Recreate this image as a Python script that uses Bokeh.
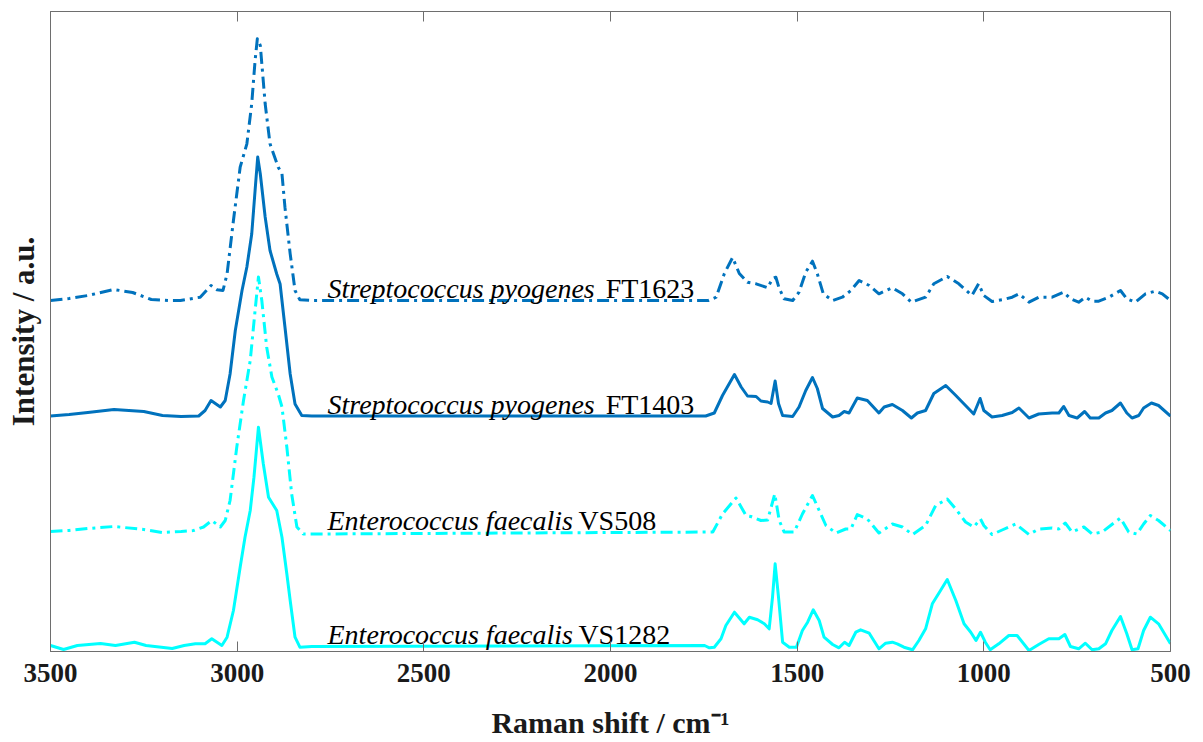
from bokeh.plotting import figure
from bokeh.models import Range1d, LinearAxis, FixedTicker
from bokeh.core.properties import value
from bokeh.embed import file_html
from bokeh.resources import INLINE

# ---------------- data (relative intensity above each trace's own baseline, a.u.) ----------------
ft1623_x = [3500, 3450, 3400, 3330, 3280, 3230, 3180, 3152, 3099, 3070, 3054, 3038, 3027, 3010, 2992, 2974,
            2961, 2952, 2946, 2938, 2925, 2912, 2890, 2880, 2872, 2858, 2845, 2832, 2796, 1738, 1717, 1695,
            1673, 1655, 1633, 1610, 1579, 1566, 1557, 1548, 1535, 1512, 1495, 1477, 1459, 1446, 1430, 1405,
            1379, 1356, 1334, 1307, 1281, 1245, 1218, 1194, 1156, 1134, 1098, 1067, 1032, 1014, 1000, 978,
            951, 924, 906, 879, 853, 817, 786, 768, 746, 728, 710, 692, 665, 634, 617, 594, 567, 541, 522, 500]
ft1623_y = [0, 2, 5, 11, 8, 1, 0, 0, 3.3, 15, 10.7, 10, 26.7, 80, 133.3, 156.7,
            196.7, 240, 261.7, 255, 196.7, 156.7, 133.3, 126.7, 93.3, 46.7, 10, 0.7, 0, 0, 3.3, 27,
            43, 27, 18.3, 16.7, 12.7, 22, 23.3, 12, 1.7, 0, 8.3, 28.3, 39.3, 26.7, 6.7, 0,
            3.3, 10, 20, 15, 6.7, 12.7, 6.7, -1.7, 3.3, 16.7, 24, 16.7, 5, 16.7, 5, -1,
            0.7, 3.3, 6.7, -1.7, 3.3, 3.3, 8.3, 1.7, -1.7, 3.3, -0.7, -0.7, 3.3, 10, 1.7, -1.7, 6.7, 9.3, 6.7, 0]

ft1403_x = [3500, 3450, 3400, 3330, 3250, 3200, 3150, 3103, 3086, 3070, 3045, 3032, 3019, 3005, 2987, 2974,
            2961, 2952, 2945, 2938, 2925, 2912, 2894, 2885, 2872, 2858, 2845, 2827, 2800, 1745, 1722, 1700,
            1668, 1650, 1633, 1610, 1597, 1579, 1570, 1559, 1550, 1539, 1512, 1495, 1477, 1459, 1446, 1432,
            1405, 1388, 1374, 1361, 1339, 1312, 1281, 1267, 1245, 1218, 1194, 1178, 1156, 1134, 1102, 1075,
            1049, 1027, 1010, 1000, 978, 951, 924, 906, 879, 853, 817, 799, 786, 772, 750, 730, 715, 692,
            674, 657, 634, 617, 603, 585, 572, 551, 532, 500]
ft1403_y = [0, 1.5, 3.5, 6.5, 4.5, 0.5, -0.5, 0, 5.5, 15.5, 9, 15.5, 42, 85.5, 125.5, 149,
            182, 225.5, 259, 242, 199, 165.5, 142, 132, 89, 42, 12, 0.5, 0, 0, 3, 20.5,
            41.5, 29, 20, 19.5, 15, 14, 12.5, 35, 12.5, 0.5, -0.5, 9, 25.5, 38.5, 27.5, 7.5,
            -1, 0.5, 4.5, 3, 18, 15.5, 3, 9, 11.5, 5.5, -2, 3, 5.5, 22.5, 30.5, 20.5,
            10.5, 2, 17.5, 5.5, -1, 0.5, 3.5, 8, -2, 2, 3, 3, 9.5, 0.5, -2, 4.5, -2, -2,
            3, 5.5, 13, 3, -2, 0.5, 8, 13, 10.5, 0]

vs508_x = [3500, 3450, 3400, 3330, 3250, 3200, 3150, 3117, 3090, 3068, 3045, 3032, 3019, 3001, 2983, 2965,
           2952, 2943, 2934, 2921, 2907, 2890, 2880, 2867, 2854, 2840, 2823, 2800, 1726, 1700, 1664, 1637,
           1624, 1597, 1579, 1560, 1548, 1535, 1508, 1486, 1459, 1441, 1423, 1396, 1370, 1356, 1339, 1312,
           1281, 1245, 1218, 1191, 1156, 1129, 1098, 1075, 1049, 1027, 1009, 1000, 978, 951, 915, 879,
           853, 817, 799, 782, 764, 732, 710, 683, 657, 634, 612, 590, 572, 554, 532, 500]
vs508_y = [0.5, 1.5, 3.5, 5.5, 2.5, -0.5, 0.5, 1.5, 5, 11.5, 5, 11.5, 31.5, 85, 131.5, 171.5,
           221.5, 255, 231.5, 185, 155, 138, 125, 85, 38, 5, -2, -2, 0, 18, 34, 16.5,
           15.5, 11.5, 12, 38, 11.5, 0, 0, 18, 36.5, 21.5, 6.5, -1, 3, 3, 17.5, 13,
           -1, 8, 5, -2.5, 6.5, 26.5, 33, 23, 10, 5, 13, 6.5, -2.5, 2, 8, -2.5,
           3, 4, 3, 9, 0, 5, -2, 0, 7.5, 14, 0, -2, 8, 16.5, 11.5, 1.5]

vs1282_x = [3500, 3465, 3428, 3366, 3326, 3275, 3244, 3203, 3174, 3142, 3112, 3086, 3068, 3041, 3027, 3010,
            2992, 2979, 2965, 2955, 2943, 2930, 2916, 2894, 2880, 2867, 2858, 2845, 2832, 2800, 1748, 1735,
            1722, 1704, 1691, 1668, 1642, 1628, 1606, 1588, 1575, 1566, 1559, 1550, 1539, 1521, 1502, 1486,
            1472, 1457, 1441, 1428, 1405, 1388, 1373, 1361, 1343, 1330, 1307, 1281, 1263, 1245, 1232, 1214,
            1191, 1174, 1156, 1138, 1116, 1098, 1075, 1053, 1035, 1021, 1009, 996, 983, 960, 933, 911,
            879, 853, 826, 799, 783, 768, 746, 728, 710, 692, 674, 657, 634, 617, 603, 587, 572, 554, 532, 500]
vs1282_y = [1, -3, 1, 3, 1, 4.3, 1, -0.7, -2, 1, 2.7, 2.7, 7.7, 1, 9.3, 36,
            79.3, 109.3, 136, 169.3, 219.3, 182.7, 149.3, 136, 109.3, 72.7, 46, 9.3, -0.7, 0, 1, -1.3,
            -0.7, 7.7, 21, 34.3, 22.7, 29.3, 26.7, 22.7, 17.7, 49.3, 82.7, 49.3, 4.3, -0.7, -0.7, 16,
            24.3, 36.7, 26, 9.3, 2, -1.3, 4.3, 1, 14.3, 16.7, 13.3, -2.3, 3.3, 4.3, 2.7, -0.7,
            -3.3, 6, 17.7, 42.7, 56, 67, 46, 22.7, 14.3, 6, 14.3, 4.3, -3.3, 2.7, 11, 11,
            -4, 2, 7.7, 7.7, 12, 0, -2.3, 3.3, -3.3, -2.3, 2.7, 16, 30, 12.7, -3.3, -2.3, 16, 29.3, 22.7, 2.7]

species = ["Streptococcus pyogenes", "Streptococcus pyogenes", "Enterococcus faecalis", "Enterococcus faecalis"]
strains = ["FT1623", "FT1403", "VS508", "VS1282"]
offsets = [351, 235.5, 119.5, 5]          # vertical stacking offsets (a.u.)
x_ticks = [500, 1000, 1500, 2000, 2500, 3000, 3500]

series_x = [ft1623_x, ft1403_x, vs508_x, vs1282_x]
series_y = [ft1623_y, ft1403_y, vs508_y, vs1282_y]
colors = ["#0072BD", "#0072BD", "#00FFFF", "#00FFFF"]
dashes = ["12 5 3 5", "solid", "12 5 3 5", "solid"]
label_x_regular = [2013, 2013, 2086, 2086]

SERIF = "Liberation Serif"
AX = "#6e6e6e"

p = figure(width=1200, height=742, output_backend="svg", toolbar_location=None,
           x_range=Range1d(3500, 500), y_range=Range1d(0, 640),
           min_border_left=50, min_border_right=30, min_border_top=11, min_border_bottom=91)
p.grid.visible = False
p.outline_line_color = AX
p.outline_line_width = 1
p.background_fill_color = "white"
p.border_fill_color = "white"

for xs, ys, off, c, d in zip(series_x, series_y, offsets, colors, dashes):
    p.line(xs, [off + v for v in ys], line_color=c, line_width=3, line_dash=d, line_join="round")

for sp, st, off, xr in zip(species, strains, offsets, label_x_regular):
    p.text(x=[2758], y=[off + 12], text=[sp], text_font=value(SERIF), text_font_style="italic",
           text_font_size="28px", text_color="black", text_baseline="alphabetic", text_align="left")
    p.text(x=[xr], y=[off + 12], text=[st], text_font=value(SERIF), text_font_style="normal",
           text_font_size="28px", text_color="black", text_baseline="alphabetic", text_align="left")

# bottom axis
xa = p.xaxis[0]
xa.ticker = FixedTicker(ticks=x_ticks)
xa.minor_tick_line_color = None
xa.major_tick_in = 10
xa.major_tick_out = 0
xa.major_tick_line_color = AX
xa.axis_line_color = AX
xa.major_label_text_font = SERIF
xa.major_label_text_font_style = "bold"
xa.major_label_text_font_size = "27px"
xa.major_label_text_color = "#1a1a1a"
xa.major_label_standoff = 12
xa.axis_label = "Raman shift / cm\u207b\u00b9"
xa.axis_label_text_font = SERIF
xa.axis_label_text_font_style = "bold"
xa.axis_label_text_font_size = "30px"
xa.axis_label_text_color = "#1a1a1a"
xa.axis_label_standoff = 21

# left axis (no ticks)
ya = p.yaxis[0]
ya.ticker = FixedTicker(ticks=[])
ya.minor_tick_line_color = None
ya.major_tick_line_color = None
ya.axis_line_color = AX
ya.major_label_standoff = 0
ya.axis_label = "Intensity / a.u."
ya.axis_label_text_font = SERIF
ya.axis_label_text_font_style = "bold"
ya.axis_label_text_font_size = "31px"
ya.axis_label_text_color = "#1a1a1a"
ya.axis_label_standoff = 10

# top axis with inward ticks, no labels
top = LinearAxis(ticker=FixedTicker(ticks=x_ticks), major_label_overrides={t: "" for t in x_ticks},
                 major_tick_in=10, major_tick_out=0, minor_tick_line_color=None,
                 major_tick_line_color=AX, axis_line_color=AX, major_label_standoff=0)
p.add_layout(top, "above")

open("out.html", "w").write(file_html(p, INLINE))
